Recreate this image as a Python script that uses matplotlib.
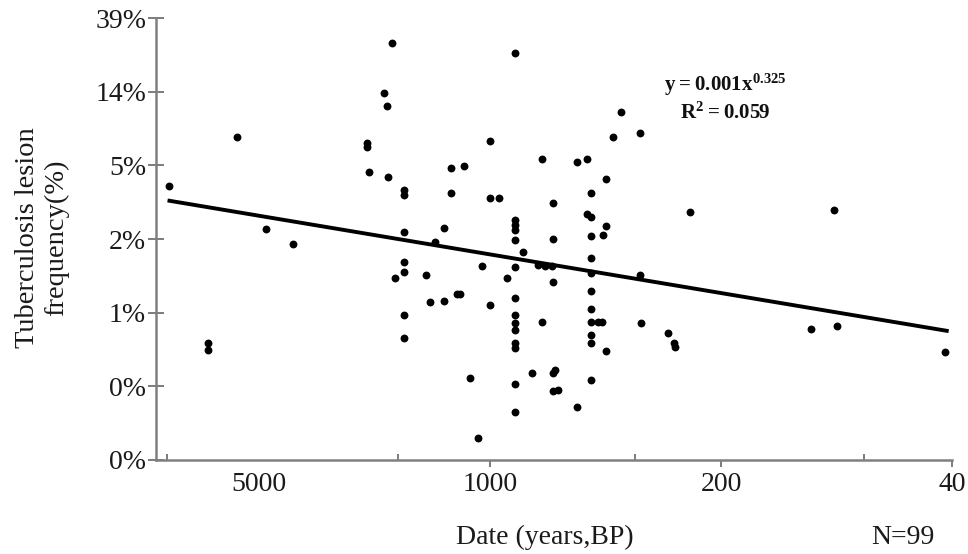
import numpy as np
import matplotlib
matplotlib.use("Agg")
import matplotlib.pyplot as plt
from matplotlib.ticker import NullFormatter, NullLocator

plt.rcParams['font.family'] = ['Liberation Serif', 'DejaVu Serif']
plt.rcParams['mathtext.fontset'] = 'custom'
plt.rcParams['mathtext.rm'] = 'Liberation Serif'
plt.rcParams['mathtext.bf'] = 'Liberation Serif:bold'

# Date (years BP) and lesion frequency (%)
date_bp = [9340, 5840, 4760, 3950, 7120, 7120,
           1975, 2090, 2055, 2360, 2360, 2320, 2030, 1820, 1820, 1310,
           1200, 1000, 1310, 1000, 940, 1820, 1375, 1465, 1820, 1820,
           1940, 1565, 1060, 1520, 1375, 1260, 1235, 1000, 1820, 1820,
           1150, 1085,
           840, 401, 424, 352, 698, 547, 508, 446, 496, 643, 510, 496,
           840, 840, 840, 840, 796, 840, 890, 643, 714, 682, 651, 643,
           496, 446, 454, 496, 496, 496, 496, 496, 470, 459, 496, 496,
           446, 349, 840, 840, 840, 840, 840, 840, 698, 748, 636, 643,
           643, 621, 840, 840, 547, 496,
           248, 91, 352, 289, 277, 276, 107, 89, 42]
freq_pct = [4.01, 7.81, 2.22, 1.81, 0.473, 0.430,
            27.8, 14.08, 11.9, 7.17, 6.79, 4.85, 4.53, 3.78, 3.54, 5.12,
            5.24, 7.36, 3.65, 3.38, 3.41, 2.15, 2.25, 1.86, 1.42, 1.25,
            1.14, 1.20, 1.35, 0.823, 0.837, 0.921, 0.921, 0.793, 0.692, 0.504,
            0.295, 0.130,
            24.4, 10.96, 7.81, 8.24, 5.77, 5.56, 5.77, 4.38, 3.65, 3.18, 2.73, 2.61,
            2.52, 2.35, 2.20, 1.92, 1.64, 1.33, 1.15, 1.94, 1.37, 1.35, 1.35, 1.09,
            2.03, 2.32, 2.05, 1.50, 1.22, 0.959, 0.751, 0.632, 0.632, 0.627, 0.528, 0.471,
            0.425, 0.619, 0.869, 0.692, 0.619, 0.565, 0.471, 0.440, 0.627, 0.314, 0.328, 0.314,
            0.247, 0.250, 0.270, 0.186, 0.199, 0.286,
            2.82, 2.88, 1.19, 0.540, 0.471, 0.450, 0.572, 0.599, 0.420]

# power-law trend line (straight on log-log axes)
trend_x = [9340, 41.5]
trend_y = [3.27, 0.559]

xtick_vals = [5000, 1000, 200, 40]
xtick_minor = [9500, 1900, 365, 74]
ytick_vals = [0.0967, 0.263, 0.714, 1.94, 5.28, 14.35, 39.0]
ytick_labels = ['0%', '0%', '1%', '2%', '5%', '14%', '39%']

fig = plt.figure(figsize=(9.68, 5.54), dpi=100)
ax = fig.add_axes([0.161, 0.1697, 0.8225, 0.7973])

ax.scatter(date_bp, freq_pct, s=32, color='black', zorder=3, linewidths=0)
ax.plot(trend_x, trend_y, color='black', lw=2.8, zorder=2)

ax.set_xscale('log', base=5)
ax.set_yscale('log', base=np.e)
ax.set_xlim(10270, 40)
ax.set_ylim(0.0967, 39.0)

ax.set_xticks(xtick_vals)
ax.set_xticklabels([str(v) for v in xtick_vals])
ax.set_xticks(xtick_minor, minor=True)
ax.xaxis.set_minor_formatter(NullFormatter())
ax.set_yticks(ytick_vals)
ax.set_yticklabels(ytick_labels)
ax.yaxis.set_minor_locator(NullLocator())
ax.yaxis.set_minor_formatter(NullFormatter())

for side in ['top', 'right']:
    ax.spines[side].set_visible(False)
for side in ['left', 'bottom']:
    ax.spines[side].set_color('#808080')
    ax.spines[side].set_linewidth(1.8)

ax.tick_params(axis='x', which='major', direction='out', length=5, width=1.2,
               color='#666666', labelsize=20, labelcolor='#1a1a1a', pad=4)
ax.tick_params(axis='x', which='minor', direction='in', length=4, width=1.2,
               color='#666666')
ax.tick_params(axis='y', which='major', direction='inout', length=12, width=1.2,
               color='#666666', labelsize=20, labelcolor='#1a1a1a', pad=1)
ax.xaxis.get_major_ticks()[0].tick1line.set_visible(False)

ax.text(0.715, 0.849, r'$\mathbf{y = 0.001x^{0.325}}$', transform=ax.transAxes,
        ha='center', va='center', fontsize=15, color='#111111')
ax.text(0.715, 0.786, r'$\mathbf{R^{2} = 0.059}$', transform=ax.transAxes,
        ha='center', va='center', fontsize=15, color='#111111')

fig.text(42 / 968, 1 - 238 / 554, 'Tuberculosis lesion\nfrequency(%)', rotation=90,
         ha='center', va='center', multialignment='center', fontsize=20.5,
         color='#1a1a1a', linespacing=1.25)
fig.text(545 / 968, 1 - 537 / 554, 'Date (years,BP)', ha='center', va='center',
         fontsize=20, color='#1a1a1a')
fig.text(903 / 968, 1 - 537 / 554, 'N=99', ha='center', va='center',
         fontsize=20, color='#1a1a1a')

fig.savefig('out.png', dpi=100)
